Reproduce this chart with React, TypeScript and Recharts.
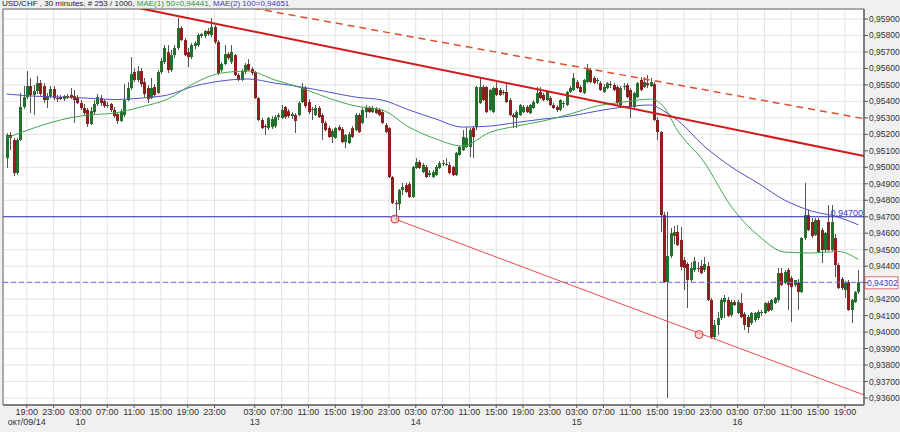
import {
  ComposedChart,
  Bar,
  Line,
  XAxis,
  YAxis,
  CartesianGrid,
  ReferenceLine,
  ReferenceDot,
  ReferenceArea,
} from "recharts"

// candles as [open, high, low, close] in 1/100000
const oct09 = [
  [95056, 95208, 94996, 95196], [95196, 95214, 95105, 95178], [95166, 95178, 94947, 94965], [94965, 95178, 94953, 95166],
  [95166, 95451, 95159, 95366], [95366, 95493, 95354, 95426], [95426, 95584, 95414, 95493], [95493, 95542, 95329, 95439],
  [95439, 95499, 95317, 95463], [95463, 95554, 95445, 95511], [95511, 95530, 95432, 95445], [95493, 95511, 95390, 95408],
  [95408, 95451, 95360, 95432], [95432, 95493, 95420, 95475], [95475, 95493, 95408, 95420], [95420, 95439, 95396, 95414],
]
const oct10 = [
  [95426, 95439, 95408, 95414], [95414, 95439, 95402, 95432], [95432, 95445, 95414, 95426], [95439, 95481, 95414, 95426],
  [95432, 95469, 95269, 95408], [95420, 95439, 95384, 95390], [95390, 95408, 95348, 95360], [95360, 95384, 95311, 95329],
  [95348, 95360, 95244, 95263], [95263, 95366, 95257, 95341], [95335, 95408, 95323, 95384], [95384, 95445, 95372, 95426],
  [95420, 95439, 95372, 95390], [95402, 95414, 95360, 95372], [95372, 95396, 95360, 95378], [95384, 95390, 95335, 95348],
  [95348, 95366, 95299, 95311], [95323, 95335, 95263, 95281], [95281, 95354, 95275, 95341], [95317, 95505, 95305, 95408],
  [95408, 95517, 95402, 95481], [95481, 95669, 95469, 95566], [95578, 95602, 95517, 95530], [95530, 95614, 95517, 95584],
  [95584, 95602, 95487, 95505], [95517, 95542, 95426, 95445], [95481, 95499, 95390, 95414], [95420, 95542, 95414, 95481],
  [95487, 95505, 95426, 95439], [95451, 95590, 95445, 95578], [95578, 95663, 95566, 95645], [95639, 95742, 95627, 95724],
  [95699, 95742, 95572, 95590], [95590, 95712, 95578, 95681], [95681, 95742, 95663, 95724], [95724, 95906, 95712, 95845],
  [95845, 95857, 95766, 95772], [95772, 95784, 95675, 95681], [95699, 95724, 95608, 95669], [95669, 95754, 95657, 95742],
  [95736, 95766, 95718, 95754], [95742, 95815, 95730, 95803], [95797, 95815, 95784, 95809], [95797, 95833, 95784, 95827],
  [95827, 95845, 95797, 95809], [95803, 95906, 95790, 95851], [95851, 95863, 95748, 95760], [95760, 95772, 95560, 95572],
  [95590, 95639, 95578, 95627], [95627, 95742, 95621, 95687], [95687, 95699, 95651, 95663], [95639, 95742, 95627, 95699],
]
const oct13 = [
  [95681, 95687, 95554, 95560], [95560, 95572, 95523, 95530], [95530, 95596, 95523, 95584], [95578, 95633, 95566, 95621],
  [95627, 95657, 95584, 95590], [95596, 95608, 95560, 95572], [95578, 95584, 95414, 95420], [95420, 95426, 95281, 95287],
  [95287, 95299, 95232, 95238], [95250, 95263, 95196, 95244], [95238, 95305, 95226, 95299], [95244, 95311, 95232, 95293],
  [95250, 95317, 95238, 95305], [95305, 95329, 95287, 95317], [95299, 95378, 95293, 95348], [95366, 95372, 95293, 95305],
  [95341, 95354, 95299, 95311], [95311, 95335, 95293, 95323], [95317, 95329, 95208, 95281], [95317, 95402, 95311, 95390],
  [95396, 95511, 95390, 95481], [95481, 95493, 95360, 95372], [95396, 95414, 95323, 95335], [95348, 95366, 95287, 95354],
  [95317, 95378, 95311, 95360], [95360, 95372, 95299, 95305], [95317, 95329, 95166, 95269], [95269, 95281, 95220, 95226],
  [95238, 95250, 95178, 95184], [95184, 95232, 95147, 95220], [95178, 95244, 95172, 95238], [95244, 95257, 95220, 95226],
  [95232, 95244, 95147, 95153], [95153, 95202, 95117, 95196], [95147, 95214, 95141, 95202], [95238, 95250, 95178, 95184],
  [95226, 95329, 95220, 95317], [95317, 95329, 95208, 95214], [95269, 95360, 95263, 95348], [95335, 95378, 95299, 95360],
  [95360, 95372, 95329, 95335], [95335, 95372, 95329, 95360], [95354, 95366, 95323, 95329], [95348, 95360, 95311, 95317],
  [95335, 95348, 95263, 95269], [95257, 95269, 95208, 95214], [95238, 95244, 94935, 94941], [94941, 94947, 94777, 94783],
]
const oct14 = [
  [94783, 94801, 94686, 94777], [94777, 94868, 94741, 94862], [94862, 94905, 94832, 94880], [94892, 94905, 94844, 94850],
  [94898, 94911, 94814, 94820], [94820, 95008, 94814, 95002], [94996, 95056, 94990, 95032], [95032, 95044, 94990, 94996],
  [94971, 95026, 94965, 95014], [95002, 95014, 94935, 94941], [94953, 94983, 94941, 94965], [94941, 94983, 94935, 94971],
  [94953, 95014, 94947, 95002], [94996, 95038, 94990, 95026], [95020, 95044, 95008, 95026], [95014, 95056, 95008, 95020],
  [95014, 95032, 94959, 94965], [95002, 95008, 94947, 94953], [94953, 95093, 94947, 95087], [95075, 95129, 95068, 95123],
  [95105, 95226, 95099, 95184], [95123, 95244, 95117, 95178], [95123, 95238, 95062, 95226], [95238, 95250, 95056, 95184],
  [95244, 95493, 95226, 95487], [95390, 95542, 95384, 95487], [95487, 95499, 95402, 95408], [95487, 95493, 95329, 95335],
  [95348, 95475, 95341, 95469], [95335, 95487, 95329, 95481], [95481, 95517, 95432, 95439], [95469, 95481, 95432, 95439],
  [95457, 95469, 95439, 95451], [95457, 95511, 95390, 95396], [95408, 95420, 95311, 95317], [95317, 95329, 95238, 95305],
  [95299, 95348, 95238, 95335], [95317, 95384, 95311, 95378], [95335, 95378, 95329, 95366], [95366, 95378, 95329, 95335],
  [95329, 95384, 95323, 95378], [95360, 95408, 95354, 95396], [95390, 95487, 95384, 95451], [95457, 95487, 95414, 95420],
  [95439, 95451, 95402, 95408], [95408, 95469, 95402, 95457], [95420, 95432, 95372, 95378], [95378, 95390, 95354, 95360],
]
const oct15 = [
  [95366, 95378, 95335, 95348], [95348, 95414, 95341, 95408], [95384, 95402, 95360, 95390], [95378, 95463, 95372, 95457],
  [95457, 95493, 95451, 95481], [95469, 95572, 95463, 95542], [95517, 95530, 95475, 95481], [95487, 95499, 95451, 95457],
  [95451, 95536, 95445, 95530], [95517, 95627, 95511, 95602], [95590, 95602, 95511, 95517], [95542, 95554, 95505, 95511],
  [95523, 95542, 95505, 95530], [95511, 95523, 95463, 95469], [95457, 95505, 95451, 95487], [95481, 95517, 95475, 95511],
  [95505, 95523, 95481, 95499], [95499, 95511, 95463, 95469], [95487, 95499, 95378, 95390], [95378, 95493, 95372, 95481],
  [95487, 95511, 95469, 95493], [95499, 95511, 95420, 95426], [95469, 95481, 95299, 95366], [95366, 95457, 95360, 95451],
  [95426, 95517, 95420, 95511], [95530, 95548, 95463, 95469], [95487, 95548, 95481, 95517], [95511, 95560, 95481, 95499],
  [95493, 95542, 95487, 95517], [95505, 95517, 95281, 95287], [95287, 95305, 95166, 95214], [95214, 95220, 94607, 94710],
  [94710, 94729, 94298, 94304], [94304, 94729, 93600, 94462], [94462, 94632, 94449, 94601], [94583, 94644, 94534, 94607],
  [94607, 94650, 94522, 94528], [94559, 94638, 94377, 94395], [94437, 94456, 94255, 94389], [94413, 94425, 94146, 94316],
  [94316, 94425, 94304, 94389], [94377, 94456, 94364, 94431], [94389, 94425, 94364, 94383], [94401, 94437, 94352, 94358],
  [94377, 94456, 94364, 94413], [94401, 94425, 94189, 94195], [94195, 94207, 93958, 93970], [93970, 94073, 93958, 94043],
]
const oct16 = [
  [94043, 94122, 93982, 94085], [94085, 94207, 94073, 94195], [94182, 94225, 94085, 94207], [94195, 94213, 94091, 94098],
  [94104, 94195, 94091, 94182], [94182, 94195, 94158, 94164], [94116, 94195, 94110, 94182], [94176, 94237, 94085, 94091],
  [94110, 94122, 94013, 94043], [94091, 94104, 93994, 94031], [94055, 94122, 94043, 94116], [94073, 94122, 94061, 94116],
  [94085, 94134, 94073, 94122], [94116, 94134, 94098, 94122], [94116, 94182, 94110, 94176], [94176, 94189, 94122, 94128],
  [94134, 94201, 94128, 94195], [94176, 94213, 94170, 94207], [94195, 94389, 94182, 94358], [94358, 94389, 94280, 94286],
  [94298, 94377, 94292, 94364], [94377, 94389, 94134, 94286], [94328, 94340, 94061, 94273], [94286, 94316, 94273, 94316],
  [94304, 94322, 94134, 94243], [94243, 94577, 94237, 94571], [94571, 94905, 94559, 94710], [94710, 94741, 94613, 94619],
  [94668, 94692, 94571, 94583], [94589, 94692, 94583, 94680], [94680, 94692, 94480, 94486], [94619, 94632, 94419, 94498],
  [94498, 94607, 94486, 94601], [94668, 94771, 94492, 94498], [94498, 94771, 94492, 94668], [94571, 94595, 94334, 94407],
  [94407, 94419, 94261, 94267], [94322, 94334, 94255, 94267], [94255, 94310, 94207, 94298], [94304, 94316, 94128, 94134],
  [94134, 94201, 94055, 94195], [94182, 94249, 94176, 94243], [94243, 94377, 94231, 94302],
]

// moving averages read at these bar indices
const maIdx = [0, 8, 16, 24, 32, 40, 48, 56, 64, 72, 80, 88, 96, 104, 112, 120, 128, 136, 144, 152, 160, 168, 176, 184, 192, 196, 200, 208, 216, 224, 232, 240, 248, 254]
const ma50 = [95178, 95238, 95287, 95317, 95329, 95366, 95414, 95511, 95572, 95584, 95530, 95481, 95420, 95372, 95348, 95244, 95172, 95129, 95211, 95250, 95281, 95323, 95372, 95396, 95414, 95366, 95226, 95032, 94765, 94589, 94486, 94480, 94489, 94441]
const ma100 = [95445, 95432, 95426, 95420, 95411, 95420, 95439, 95493, 95524, 95536, 95511, 95487, 95457, 95426, 95408, 95348, 95293, 95244, 95250, 95272, 95293, 95311, 95341, 95366, 95378, 95341, 95287, 95129, 95004, 94905, 94801, 94735, 94698, 94651]

const tickIdx = [6, 14, 22, 30, 38, 46, 54, 62, 74, 82, 90, 98, 106, 114, 122, 130, 138, 146, 154, 162, 170, 178, 186, 194, 202, 210, 218, 226, 234, 242, 250]
const tickTime = ["19:00", "23:00", "03:00", "07:00", "11:00", "15:00", "19:00", "23:00", "03:00", "07:00", "11:00", "15:00", "19:00", "23:00", "03:00", "07:00", "11:00", "15:00", "19:00", "23:00", "03:00", "07:00", "11:00", "15:00", "19:00", "23:00", "03:00", "07:00", "11:00", "15:00", "19:00"]
const dateIdx = [6, 22, 74, 122, 170, 218]
const dateLabel = ["окт/09/14", "10", "13", "14", "15", "16"]

const yTicks = [0.936, 0.937, 0.938, 0.939, 0.94, 0.941, 0.942, 0.943, 0.944, 0.945, 0.946, 0.947, 0.948, 0.949, 0.95, 0.951, 0.952, 0.953, 0.954, 0.955, 0.956, 0.957, 0.958, 0.959]

const level = 0.947
const lastClose = 0.94302
const resistance = [{ x: 40, y: 0.95964 }, { x: 255.69, y: 0.95069 }]
const channelTop = [{ x: 73.5, y: 0.95966 }, { x: 255.69, y: 0.95295 }]
const support = [{ x: 115.8, y: 0.94686 }, { x: 255.69, y: 0.93618 }]
const marks = [{ x: 115.8, y: 0.94686 }, { x: 206.5, y: 0.93985 }]

const Y_MIN = 0.935575
const Y_MAX = 0.959607
const X_MIN = -1.096
const X_MAX = 255.69

const candles = [...oct09, ...oct10, ...oct13, ...oct14, ...oct15, ...oct16]
const data = candles.map(([o, h, l, c], i) => {
  const k = maIdx.indexOf(i)
  return {
    i,
    open: o / 1e5,
    high: h / 1e5,
    low: l / 1e5,
    close: c / 1e5,
    range: [l / 1e5, h / 1e5],
    ma50: k >= 0 ? ma50[k] / 1e5 : null,
    ma100: k >= 0 ? ma100[k] / 1e5 : null,
  }
})

const font = '"Liberation Sans", Arial, sans-serif'
const fmt = (v: number) => v.toFixed(5).replace(".", ",")

function Candle(props: any) {
  const { x, y, width, height, payload } = props
  if (!payload) return null
  const top = Math.min(y, y + height)
  const bot = Math.max(y, y + height)
  const span = payload.high - payload.low
  const k = span > 0 ? (bot - top) / span : 0
  const py = (v: number) => top + (payload.high - v) * k
  const cx = Math.round(x + width / 2)
  const up = payload.close >= payload.open
  const bTop = py(Math.max(payload.open, payload.close))
  const bBot = py(Math.min(payload.open, payload.close))
  return (
    <g>
      <line x1={cx + 0.5} x2={cx + 0.5} y1={top} y2={bot} stroke="#555" strokeWidth={1} />
      <rect x={cx - 1} y={bTop} width={3} height={Math.max(1, bBot - bTop)} fill={up ? "#23702b" : "#8e1f1f"} />
    </g>
  )
}

function TimeTick(props: any) {
  const { x, y, payload } = props
  const k = tickIdx.indexOf(payload.value)
  const d = dateIdx.indexOf(payload.value)
  return (
    <g fontFamily={font} fontSize={9} fill="#333">
      <text x={x} y={y} dy={6} textAnchor="middle">{k >= 0 ? tickTime[k] : ""}</text>
      {d >= 0 && <text x={x} y={y} dy={16} textAnchor="middle">{dateLabel[d]}</text>}
    </g>
  )
}

function PriceTick(props: any) {
  const { x, y, payload } = props
  if (Math.abs(payload.value - 0.943) < 1e-6) return null
  return (
    <text x={x} y={y} dy={3} textAnchor="start" fontFamily={font} fontSize={8.5} fill="#333">
      {fmt(payload.value)}
    </text>
  )
}

function LastBox(props: any) {
  const vb = props.viewBox
  if (!vb) return null
  const bx = vb.x + vb.width + 1
  return (
    <g>
      <rect x={bx} y={vb.y - 5.5} width={33} height={12} fill="#fff" stroke="#e06a6a" />
      <text x={bx + 2} y={vb.y + 3.5} fontFamily={font} fontSize={8.5} fill="#3838d0">{fmt(lastClose)}</text>
    </g>
  )
}

export default function App() {
  return (
    <div style={{ position: "absolute", left: 0, top: 0, width: 900, height: 432, background: "#f0f0f0", overflow: "hidden" }}>
      <div style={{ position: "absolute", left: 2, top: -1, fontFamily: font, fontSize: 8, lineHeight: "10px", color: "#222", whiteSpace: "nowrap" }}>
        USD/CHF , 30 minutes, # 253 / 1000,{" "}
        <span style={{ color: "#2e9a3e" }}>MAE(1) 50=0,94441,</span>{" "}
        <span style={{ color: "#4040c0" }}>MAE(2) 100=0,94651</span>
      </div>
      <ComposedChart width={900} height={432} data={data} margin={{ top: 9, right: 0, bottom: 0, left: 3 }}>
        <CartesianGrid stroke="#e3e3e3" fill="#fff" />
        <XAxis
          dataKey="i"
          type="category"
          ticks={tickIdx}
          interval={0}
          padding={{ left: 2, right: 4 }}
          height={27}
          tickSize={3}
          tickMargin={1}
          tick={<TimeTick />}
          axisLine={{ stroke: "#555" }}
          tickLine={{ stroke: "#555" }}
        />
        <XAxis xAxisId="n" type="number" dataKey="i" domain={[X_MIN, X_MAX]} allowDataOverflow hide />
        <YAxis
          orientation="right"
          width={36}
          domain={[Y_MIN, Y_MAX]}
          allowDataOverflow
          ticks={yTicks}
          interval={0}
          tickSize={4}
          tickMargin={1}
          tick={<PriceTick />}
          axisLine={{ stroke: "#555" }}
          tickLine={{ stroke: "#555" }}
        />
        <ReferenceArea xAxisId="n" x1={X_MIN} x2={X_MAX} y1={Y_MIN} y2={Y_MAX} fill="none" stroke="#666" strokeWidth={1} ifOverflow="visible" />
        <Line dataKey="ma100" type="monotone" stroke="#5050c8" strokeWidth={1} dot={false} connectNulls isAnimationActive={false} />
        <Line dataKey="ma50" type="monotone" stroke="#3fa84e" strokeWidth={1} dot={false} connectNulls isAnimationActive={false} />
        <Bar dataKey="range" shape={(p: any) => <Candle {...p} />} isAnimationActive={false} />
        <ReferenceLine y={level} stroke="#3030c0" strokeWidth={1}
          label={{ value: fmt(level), position: "insideBottomRight", offset: 1, fill: "#3838d0", fontSize: 9, fontFamily: font }} />
        <ReferenceLine y={lastClose} stroke="#6a6af0" strokeDasharray="5 3" strokeWidth={1} label={<LastBox />} />
        <ReferenceLine xAxisId="n" segment={resistance} stroke="#d01a1a" strokeWidth={2} ifOverflow="hidden" />
        <ReferenceLine xAxisId="n" segment={channelTop} stroke="#e0502e" strokeWidth={1.5} strokeDasharray="7 5" ifOverflow="hidden" />
        <ReferenceLine xAxisId="n" segment={support} stroke="#f04848" strokeWidth={1} ifOverflow="hidden" />
        {marks.map((m, k) => (
          <ReferenceDot key={k} xAxisId="n" x={m.x} y={m.y} r={4} fill="#ffc4c4" fillOpacity={0.6} stroke="#e03535" strokeWidth={1} />
        ))}
      </ComposedChart>
    </div>
  )
}
